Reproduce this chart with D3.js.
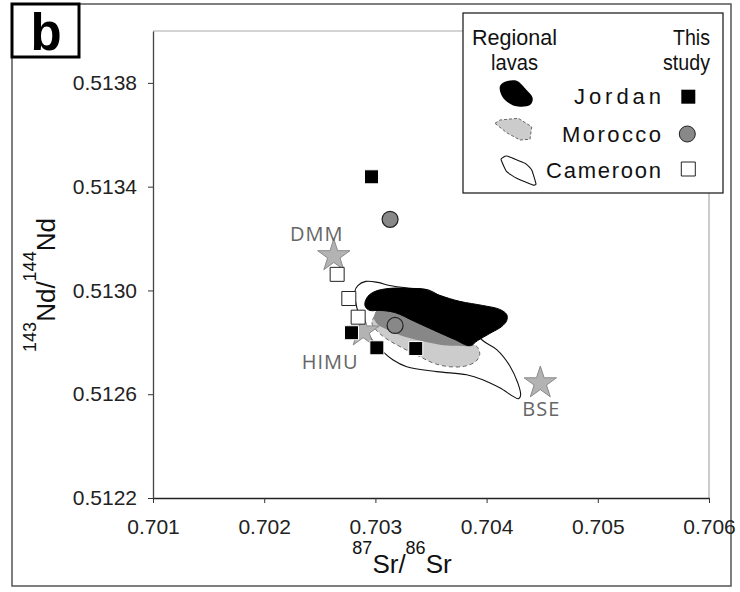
<!DOCTYPE html>
<html><head><meta charset="utf-8">
<script src="https://cdn.jsdelivr.net/npm/d3@7"></script>
<style>body{margin:0;background:#fff}svg{display:block}</style>
</head><body>
<svg id="c" width="740" height="592"></svg>
<script>
// ---------- data ----------
const xTicks = [0.701, 0.702, 0.703, 0.704, 0.705, 0.706];
const yTicks = [0.5122, 0.5126, 0.5130, 0.5134, 0.5138];

// This study samples (87Sr/86Sr, 143Nd/144Nd)
const jordanSr   = [0.702965, 0.702785, 0.703013, 0.703363];
const jordanNd   = [0.513438, 0.512837, 0.512779, 0.512776];
const moroccoSr  = [0.703132, 0.703177];
const moroccoNd  = [0.513274, 0.512865];
const cameroonSr = [0.702656, 0.702761, 0.702845];
const cameroonNd = [0.513062, 0.512969, 0.512897];

// mantle end-members
const endNames = ["DMM", "HIMU", "BSE"];
const endSr    = [0.702626, 0.702890, 0.704483];
const endNd    = [0.513133, 0.512843, 0.512643];

// regional lava fields (outlines)
const jordanFieldSr = [0.702905,0.702932,0.702995,0.703129,0.703309,0.703444,0.703579,0.703758,0.703965,0.704118,0.704181,0.704181,0.704136,0.704028,0.703920,0.703848,0.703713,0.703534,0.703354,0.703174,0.703040,0.702950,0.702914];
const jordanFieldNd = [0.512950,0.512977,0.512996,0.513008,0.513008,0.513004,0.512981,0.512958,0.512942,0.512927,0.512907,0.512884,0.512861,0.512834,0.512807,0.512787,0.512811,0.512845,0.512880,0.512915,0.512923,0.512923,0.512934];

const moroccoFieldSr = [0.702986,0.703022,0.703174,0.703399,0.703669,0.703866,0.703920,0.703938,0.703902,0.703803,0.703669,0.703534,0.703399,0.703219,0.703085,0.703004,0.702968];
const moroccoFieldNd = [0.512896,0.512923,0.512915,0.512876,0.512826,0.512795,0.512780,0.512753,0.512726,0.512708,0.512706,0.512718,0.512745,0.512784,0.512818,0.512849,0.512876];

const moroccoCoreSr = [0.702986,0.703022,0.703174,0.703399,0.703669,0.703884,0.703713,0.703579,0.703399,0.703264,0.703129,0.703022];
const moroccoCoreNd = [0.512896,0.512923,0.512915,0.512876,0.512826,0.512787,0.512787,0.512791,0.512807,0.512822,0.512845,0.512869];

const cameroonFieldSr = [0.702815,0.702842,0.702914,0.703022,0.703129,0.703309,0.703489,0.703579,0.703758,0.703965,0.704091,0.704208,0.704280,0.704306,0.704289,0.704118,0.703965,0.703821,0.703552,0.703282,0.703156,0.703067,0.702968,0.702887,0.702833];
const cameroonFieldNd = [0.512996,0.513019,0.513035,0.513031,0.513019,0.513008,0.513000,0.512977,0.512907,0.512807,0.512772,0.512710,0.512644,0.512598,0.512583,0.512625,0.512656,0.512675,0.512687,0.512706,0.512733,0.512764,0.512811,0.512869,0.512934];

const legendRows = ["Jordan", "Morocco", "Cameroon"];

// ---------- drawing ----------
const svg = d3.select("#c");
const FONT = "'Liberation Sans', Arial, sans-serif";
const NARROW = "'Liberation Sans Narrow', 'Arial Narrow', 'Liberation Sans', sans-serif";

const x = d3.scaleLinear().domain([0.701, 0.706]).range([153, 709]);
const y = d3.scaleLinear().domain([0.5122, 0.5140]).range([498, 31]);

// outer frame
svg.append("rect").attr("x", 12).attr("y", 4).attr("width", 719).attr("height", 582)
  .attr("fill", "#fff").attr("stroke", "#555").attr("stroke-width", 1.5);

// plot frame (top/right light lines)
svg.append("path").attr("d", `M${x(0.701)},${y(0.5140)}H${x(0.706)}V${y(0.5122)}`)
  .attr("fill", "none").attr("stroke", "#aaa").attr("stroke-width", 1.2);

// axes
const gx = svg.append("g").attr("transform", `translate(0,${y(0.5122)})`)
  .call(d3.axisBottom(x).tickValues(xTicks).tickSize(5).tickSizeOuter(0).tickPadding(16).tickFormat(d3.format(".3f")));
const gy = svg.append("g").attr("transform", `translate(${x(0.701)},0)`)
  .call(d3.axisLeft(y).tickValues(yTicks).tickSize(5).tickSizeOuter(0).tickPadding(11).tickFormat(d3.format(".4f")));
[gx, gy].forEach(g => {
  g.selectAll("text").attr("font-family", FONT).attr("font-size", 21).attr("fill", "#222");
  g.selectAll("line").attr("stroke", "#333");
  g.select(".domain").attr("stroke", "#222").attr("stroke-width", 1.3);
});
gy.select(".domain").attr("stroke", "#444");

// fields
const line = (curve) => d3.line().x(d => x(d[0])).y(d => y(d[1])).curve(curve);
const zip = (a, b) => a.map((v, i) => [v, b[i]]);

svg.append("path").datum(zip(cameroonFieldSr, cameroonFieldNd))
  .attr("d", line(d3.curveCatmullRomClosed.alpha(0.5)))
  .attr("fill", "none").attr("stroke", "#111").attr("stroke-width", 1.1);

svg.append("path").datum(zip(moroccoFieldSr, moroccoFieldNd))
  .attr("d", line(d3.curveCatmullRomClosed.alpha(0.5)))
  .attr("fill", "#cccccc").attr("stroke", "#666").attr("stroke-width", 1).attr("stroke-dasharray", "4,3");

svg.append("path").datum(zip(moroccoCoreSr, moroccoCoreNd))
  .attr("d", line(d3.curveCatmullRomClosed.alpha(0.5)))
  .attr("fill", "#878787").attr("stroke", "none");

svg.append("path").datum(zip(jordanFieldSr, jordanFieldNd))
  .attr("d", line(d3.curveCatmullRomClosed.alpha(0.5)))
  .attr("fill", "#000").attr("stroke", "#000").attr("stroke-width", 1);

// end-member stars + labels
const star = d3.symbol().type(d3.symbolStar).size(325);
const labelOff = {DMM: [-17, -15], HIMU: [-33, 38], BSE: [1, 33]};
endNames.forEach((n, i) => {
  svg.append("path").attr("d", star())
    .attr("transform", `translate(${x(endSr[i])},${y(endNd[i])})`)
    .attr("fill", "#b3b3b3").attr("stroke", "#8a8a8a").attr("stroke-width", 1);
  svg.append("text").text(n)
    .attr("x", x(endSr[i]) + labelOff[n][0]).attr("y", y(endNd[i]) + labelOff[n][1])
    .attr("text-anchor", "middle").attr("font-family", "'Open Sans', sans-serif")
    .attr("font-size", 20).attr("letter-spacing", 1).attr("fill", "#666");
});

// sample symbols
const sq = d3.symbol().type(d3.symbolSquare).size(196);
const circ = d3.symbol().type(d3.symbolCircle).size(201);
zip(cameroonSr, cameroonNd).forEach(d => svg.append("path").attr("d", sq())
  .attr("transform", `translate(${x(d[0])},${y(d[1])})`)
  .attr("fill", "#fff").attr("stroke", "#222").attr("stroke-width", 1));
zip(jordanSr, jordanNd).forEach(d => svg.append("path").attr("d", sq())
  .attr("transform", `translate(${x(d[0])},${y(d[1])})`)
  .attr("fill", "#000").attr("stroke", "#fff").attr("stroke-width", 1));
zip(moroccoSr, moroccoNd).forEach(d => svg.append("path").attr("d", circ())
  .attr("transform", `translate(${x(d[0])},${y(d[1])})`)
  .attr("fill", "#888").attr("stroke", "#222").attr("stroke-width", 1.2));

// axis titles
const xt = svg.append("text").attr("x", 402).attr("y", 573).attr("text-anchor", "middle")
  .attr("font-family", FONT).attr("fill", "#111");
xt.append("tspan").attr("font-size", 18).attr("dy", -19).text("87");
xt.append("tspan").attr("font-size", 26).attr("dy", 19).text("Sr/");
xt.append("tspan").attr("font-size", 18).attr("dy", -19).text("86");
xt.append("tspan").attr("font-size", 26).attr("dy", 19).text("Sr");

const yt = svg.append("text").attr("transform", "translate(55,285) rotate(-90)").attr("text-anchor", "middle")
  .attr("font-family", FONT).attr("fill", "#111");
yt.append("tspan").attr("font-size", 18).attr("dy", -19).text("143");
yt.append("tspan").attr("font-size", 26).attr("dy", 19).text("Nd/");
yt.append("tspan").attr("font-size", 18).attr("dy", -19).text("144");
yt.append("tspan").attr("font-size", 26).attr("dy", 19).text("Nd");

// panel label
svg.append("rect").attr("x", 12).attr("y", 4).attr("width", 67).attr("height", 53)
  .attr("fill", "#fff").attr("stroke", "#000").attr("stroke-width", 3);
svg.append("text").text("b").attr("x", 46).attr("y", 50).attr("text-anchor", "middle")
  .attr("font-family", FONT).attr("font-weight", "bold").attr("font-size", 51).attr("fill", "#000");

// legend
const lg = svg.append("g").attr("transform", "translate(463,13)");
lg.append("rect").attr("width", 260).attr("height", 180).attr("fill", "#fff")
  .attr("stroke", "#111").attr("stroke-width", 1.2);
const ltxt = (t, xx, yy, anchor, len, adj, fam) => lg.append("text").text(t).attr("x", xx).attr("y", yy)
  .attr("text-anchor", anchor).attr("font-family", fam).attr("font-size", 22).attr("fill", "#111")
  .attr("textLength", len).attr("lengthAdjust", adj);
ltxt("Regional", 9, 32, "start", 85, "spacingAndGlyphs", NARROW);
ltxt("lavas", 28, 57, "start", 47, "spacingAndGlyphs", NARROW);
ltxt("This", 247, 32, "end", 37, "spacingAndGlyphs", NARROW);
ltxt("study", 247, 57, "end", 47, "spacingAndGlyphs", NARROW);
const rowY = [91, 128.7, 165.3];
const rowLen = [87, 99, 115];
legendRows.forEach((r, i) => ltxt(r, 198 - rowLen[i], rowY[i], "start", rowLen[i], "spacing", NARROW));

const gl = d3.line().curve(d3.curveCatmullRomClosed.alpha(0.5));
lg.append("path").attr("d", gl([[37,73],[42,68.7],[53.7,67.7],[62,75.3],[69.7,85.3],[67,92],[52,93],[42,87],[37.7,80.3]]))
  .attr("fill", "#000");
lg.append("path").attr("d", d3.line().curve(d3.curveLinearClosed)([[32,110.3],[37,107],[55.3,105.3],[68.7,113.7],[67,126.3],[57,127],[43.7,119.7]]))
  .attr("fill", "#ccc").attr("stroke", "#666").attr("stroke-dasharray", "3,2");
lg.append("path").attr("d", d3.line().curve(d3.curveCardinalClosed.tension(0.6))([[38,146.3],[43.7,143],[62,150.3],[68.7,157],[73,171],[69.7,172],[53.7,165.3],[43.7,158.7]]))
  .attr("fill", "none").attr("stroke", "#111").attr("stroke-width", 1.1);

lg.append("path").attr("d", sq()).attr("transform", "translate(225.3,83.7)").attr("fill", "#000");
lg.append("path").attr("d", circ()).attr("transform", "translate(224.3,121)").attr("fill", "#888").attr("stroke", "#222");
lg.append("path").attr("d", sq()).attr("transform", "translate(225.3,156)").attr("fill", "#fff").attr("stroke", "#222");
</script>
</body></html>
